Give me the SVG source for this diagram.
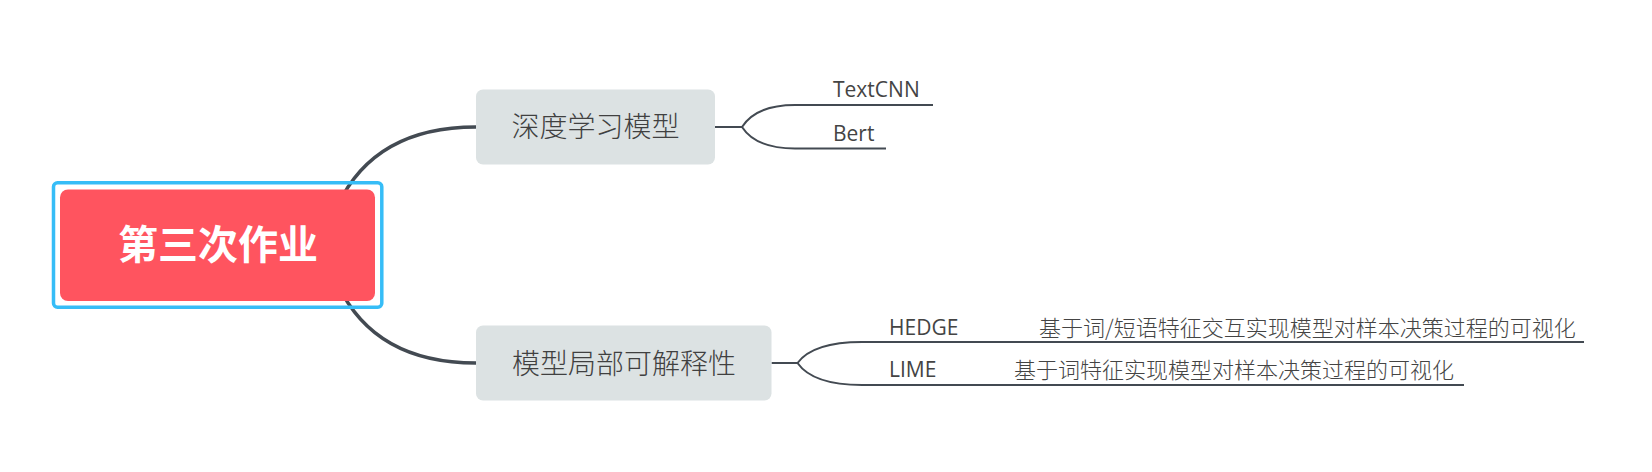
<svg xmlns="http://www.w3.org/2000/svg" width="1652" height="472" viewBox="0 0 1652 472">
<style>
.main{fill:none;stroke:#434a52;stroke-width:3.5;stroke-linecap:round}
.sub{fill:none;stroke:#434a52;stroke-width:2}
.node{fill:#dce2e3}
.ntext{font-family:"Noto Sans CJK SC","Noto Sans",sans-serif;font-size:28px;font-weight:300;fill:#404040;text-anchor:middle}
.lat{font-family:"Open Sans","Noto Sans",sans-serif;font-size:21px;fill:#444}
.cjk{font-family:"Noto Sans CJK SC",sans-serif;font-size:22px;font-weight:300;fill:#444}
</style>
<rect width="1652" height="472" fill="#ffffff"/>
<g id="connectors">
<path class="main" d="M338 205 Q375 127 476 127"/>
<path class="main" d="M338 285 Q375 363 476 363"/>
<path class="sub" d="M715 127 L742 127 Q756 105 795 105 L933 105"/>
<path class="sub" d="M742 127 Q756 148.5 795 148.5 L886 148.5"/>
<path class="sub" d="M771.5 363 L797.5 363 Q813 342 862 342 L1584 342"/>
<path class="sub" d="M797.5 363 Q813 385 862 385 L1464 385"/>
</g>
<g id="root">
<rect x="53.5" y="182.8" width="328.3" height="124.5" rx="4" fill="none" stroke="#36bdf7" stroke-width="3.5"/>
<rect x="60" y="189.5" width="315" height="111.5" rx="8" fill="#ff545f"/>
<text x="218" y="259" font-family="Noto Sans CJK SC,sans-serif" font-size="40" font-weight="bold" fill="#ffffff" text-anchor="middle">第三次作业</text>
</g>
<g id="node-deep">
<rect class="node" x="476" y="89.5" width="239" height="75" rx="7"/>
<text class="ntext" x="595.5" y="137">深度学习模型</text>
</g>
<g id="node-local">
<rect class="node" x="476" y="325.5" width="295.5" height="75" rx="7"/>
<text class="ntext" x="624" y="373.5">模型局部可解释性</text>
</g>
<g id="leaf-textcnn">
<text class="lat" x="833" y="97.3">TextCNN</text>
</g>
<g id="leaf-bert">
<text class="lat" x="833" y="141">Bert</text>
</g>
<g id="leaf-hedge">
<text x="889" y="335"><tspan class="lat">HEDGE</tspan><tspan class="cjk" x="1039" y="336">基于词/短语特征交互实现模型对样本决策过程的可视化</tspan></text>
</g>
<g id="leaf-lime">
<text x="889" y="376.7"><tspan class="lat">LIME</tspan><tspan class="cjk" x="1014" y="377.5">基于词特征实现模型对样本决策过程的可视化</tspan></text>
</g>
</svg>
